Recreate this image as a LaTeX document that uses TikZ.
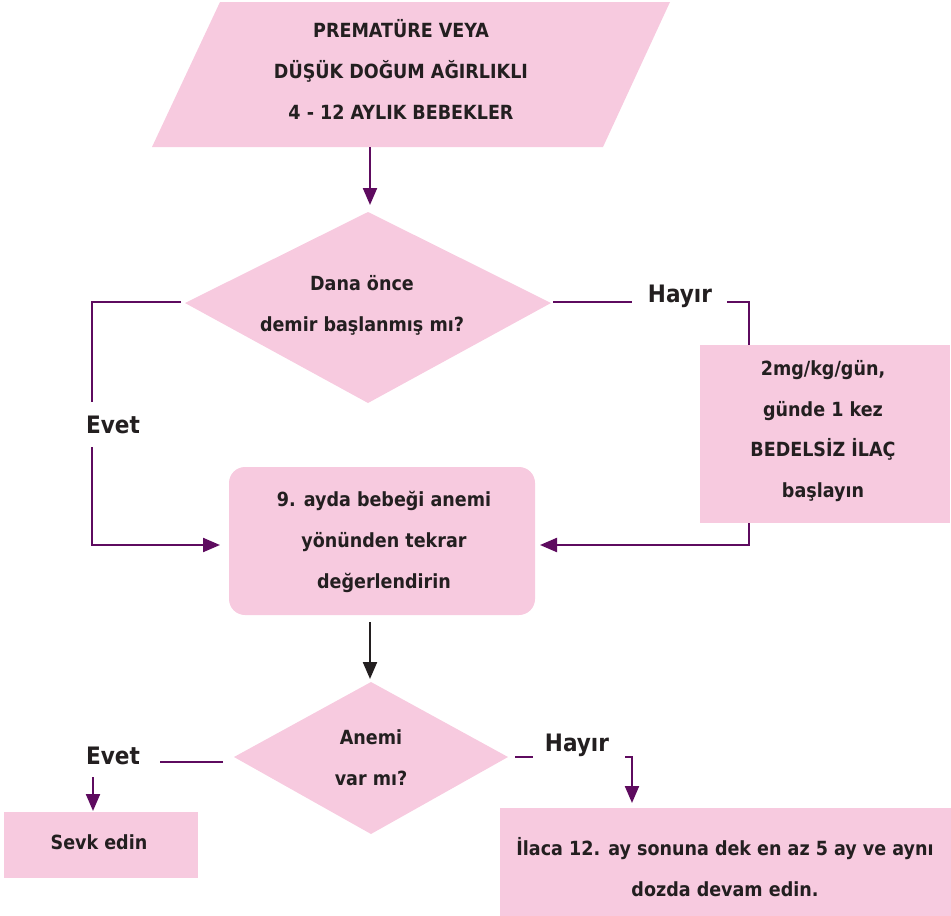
\documentclass[tikz,border=0pt]{standalone}
\usepackage{fontspec}
\usetikzlibrary{arrows.meta}
\newfontfamily\boxfont{DejaVu Sans Condensed Bold}
\definecolor{pinkfill}{HTML}{F7CADF}
\definecolor{plum}{HTML}{5E0B5F}
\definecolor{ink}{HTML}{231F20}
\tikzset{
  shapefill/.style={fill=pinkfill, draw=none},
  boxtext/.style={font=\boxfont\fontsize{19.5}{41}\selectfont, text=ink, align=center, inner sep=0pt},
  labtext/.style={font=\boxfont\fontsize{24}{28}\selectfont, text=ink, inner sep=0pt},
  link/.style={draw=plum, line width=2.2pt},
  linkarrow/.style={link, -{Triangle[length=17pt,width=14pt]}},
  blackarrow/.style={draw=ink, line width=2.2pt, -{Triangle[length=17pt,width=14pt]}},
}
\begin{document}
\begin{tikzpicture}[x=1pt, y=-1pt]
\useasboundingbox (0,0) rectangle (951,916);

% input parallelogram
\fill[pinkfill] (220,2) -- (670,2) -- (603,147) -- (152,147) -- cycle;
\node[boxtext] (start) at (401,69) {PREMATÜRE VEYA\\DÜŞÜK DOĞUM AĞIRLIKLI\\4 - 12 AYLIK BEBEKLER};
\coordinate (startb) at (370,147);

% first decision
\fill[pinkfill] (368,212) -- (551,303) -- (368,403) -- (185,303) -- cycle;
\node[boxtext] (q1) at (362,305) {Dana önce\\demir başlanmış mı?};
\coordinate (q1t) at (370,205);
\coordinate (q1l) at (181,302);
\coordinate (q1r) at (553,302);

% re-evaluation box
\node[shapefill, rounded corners=16pt, minimum width=306pt, minimum height=148pt, inner sep=0pt] (eval) at (382,541) {};
\node[boxtext] (evalt) at (384,542) {9. ayda bebeği anemi\\yönünden tekrar\\değerlendirin};

% free medicine box
\node[shapefill, minimum width=250pt, minimum height=178pt, inner sep=0pt] (drug) at (825,434) {};
\node[boxtext, font=\boxfont\fontsize{19.5}{40.5}\selectfont] (drugt) at (823,431) {2mg/kg/gün,\\günde 1 kez\\BEDELSİZ İLAÇ\\başlayın};

% second decision
\fill[pinkfill] (371,682) -- (508,757) -- (371,834) -- (234,757) -- cycle;
\node[boxtext] (q2) at (371,758) {Anemi\\var mı?};
\coordinate (q2t) at (370,679);
\coordinate (q2b) at (370,622);

% referral box
\node[shapefill, minimum width=194pt, minimum height=66pt, inner sep=0pt] (refer) at (101,845) {};
\node[boxtext] (refert) at (99,842) {Sevk edin};

% continue box
\node[shapefill, minimum width=451pt, minimum height=108pt, inner sep=0pt] (cont) at (725.5,862) {};
\node[boxtext] (contt) at (725,867) {İlaca 12. ay sonuna dek en az 5 ay ve aynı\\dozda devam edin.};

% connectors: start -> first decision
\draw[linkarrow] (startb) -- (q1t);

% first decision, Evet branch
\node[labtext] (evet1) at (113,425) {Evet};
\coordinate (e1a) at (92,402);
\coordinate (e1b) at (92,447);
\coordinate (e1c) at (220,545);
\draw[link] (q1l) -- (92,302) -- (e1a);
\draw[linkarrow] (e1b) -- (92,545) -- (e1c);

% first decision, Hayır branch
\node[labtext] (hayir1) at (680,296) {Hayır};
\coordinate (h1a) at (632,302);
\coordinate (h1b) at (727,302);
\draw[link] (q1r) -- (h1a);
\draw[link] (h1b) -- (749,302) -- (749,345);
\coordinate (drugb) at (749,523);
\coordinate (evalr) at (540,545);
\draw[linkarrow] (drugb) -- (749,545) -- (evalr);

% re-evaluation -> second decision
\draw[blackarrow] (q2b) -- (q2t);

% second decision, Evet branch
\node[labtext] (evet2) at (113,756) {Evet};
\coordinate (e2a) at (223,762);
\coordinate (e2b) at (160,762);
\draw[link] (e2a) -- (e2b);
\coordinate (e2c) at (93,777);
\coordinate (refert0) at (93,811);
\draw[linkarrow] (e2c) -- (refert0);

% second decision, Hayır branch
\node[labtext] (hayir2) at (577,745) {Hayır};
\coordinate (h2a) at (515,757);
\coordinate (h2b) at (533,757);
\coordinate (h2c) at (625,757);
\coordinate (contt0) at (632,803);
\draw[link] (h2a) -- (h2b);
\draw[linkarrow] (h2c) -- (632,757) -- (contt0);
\end{tikzpicture}
\end{document}
